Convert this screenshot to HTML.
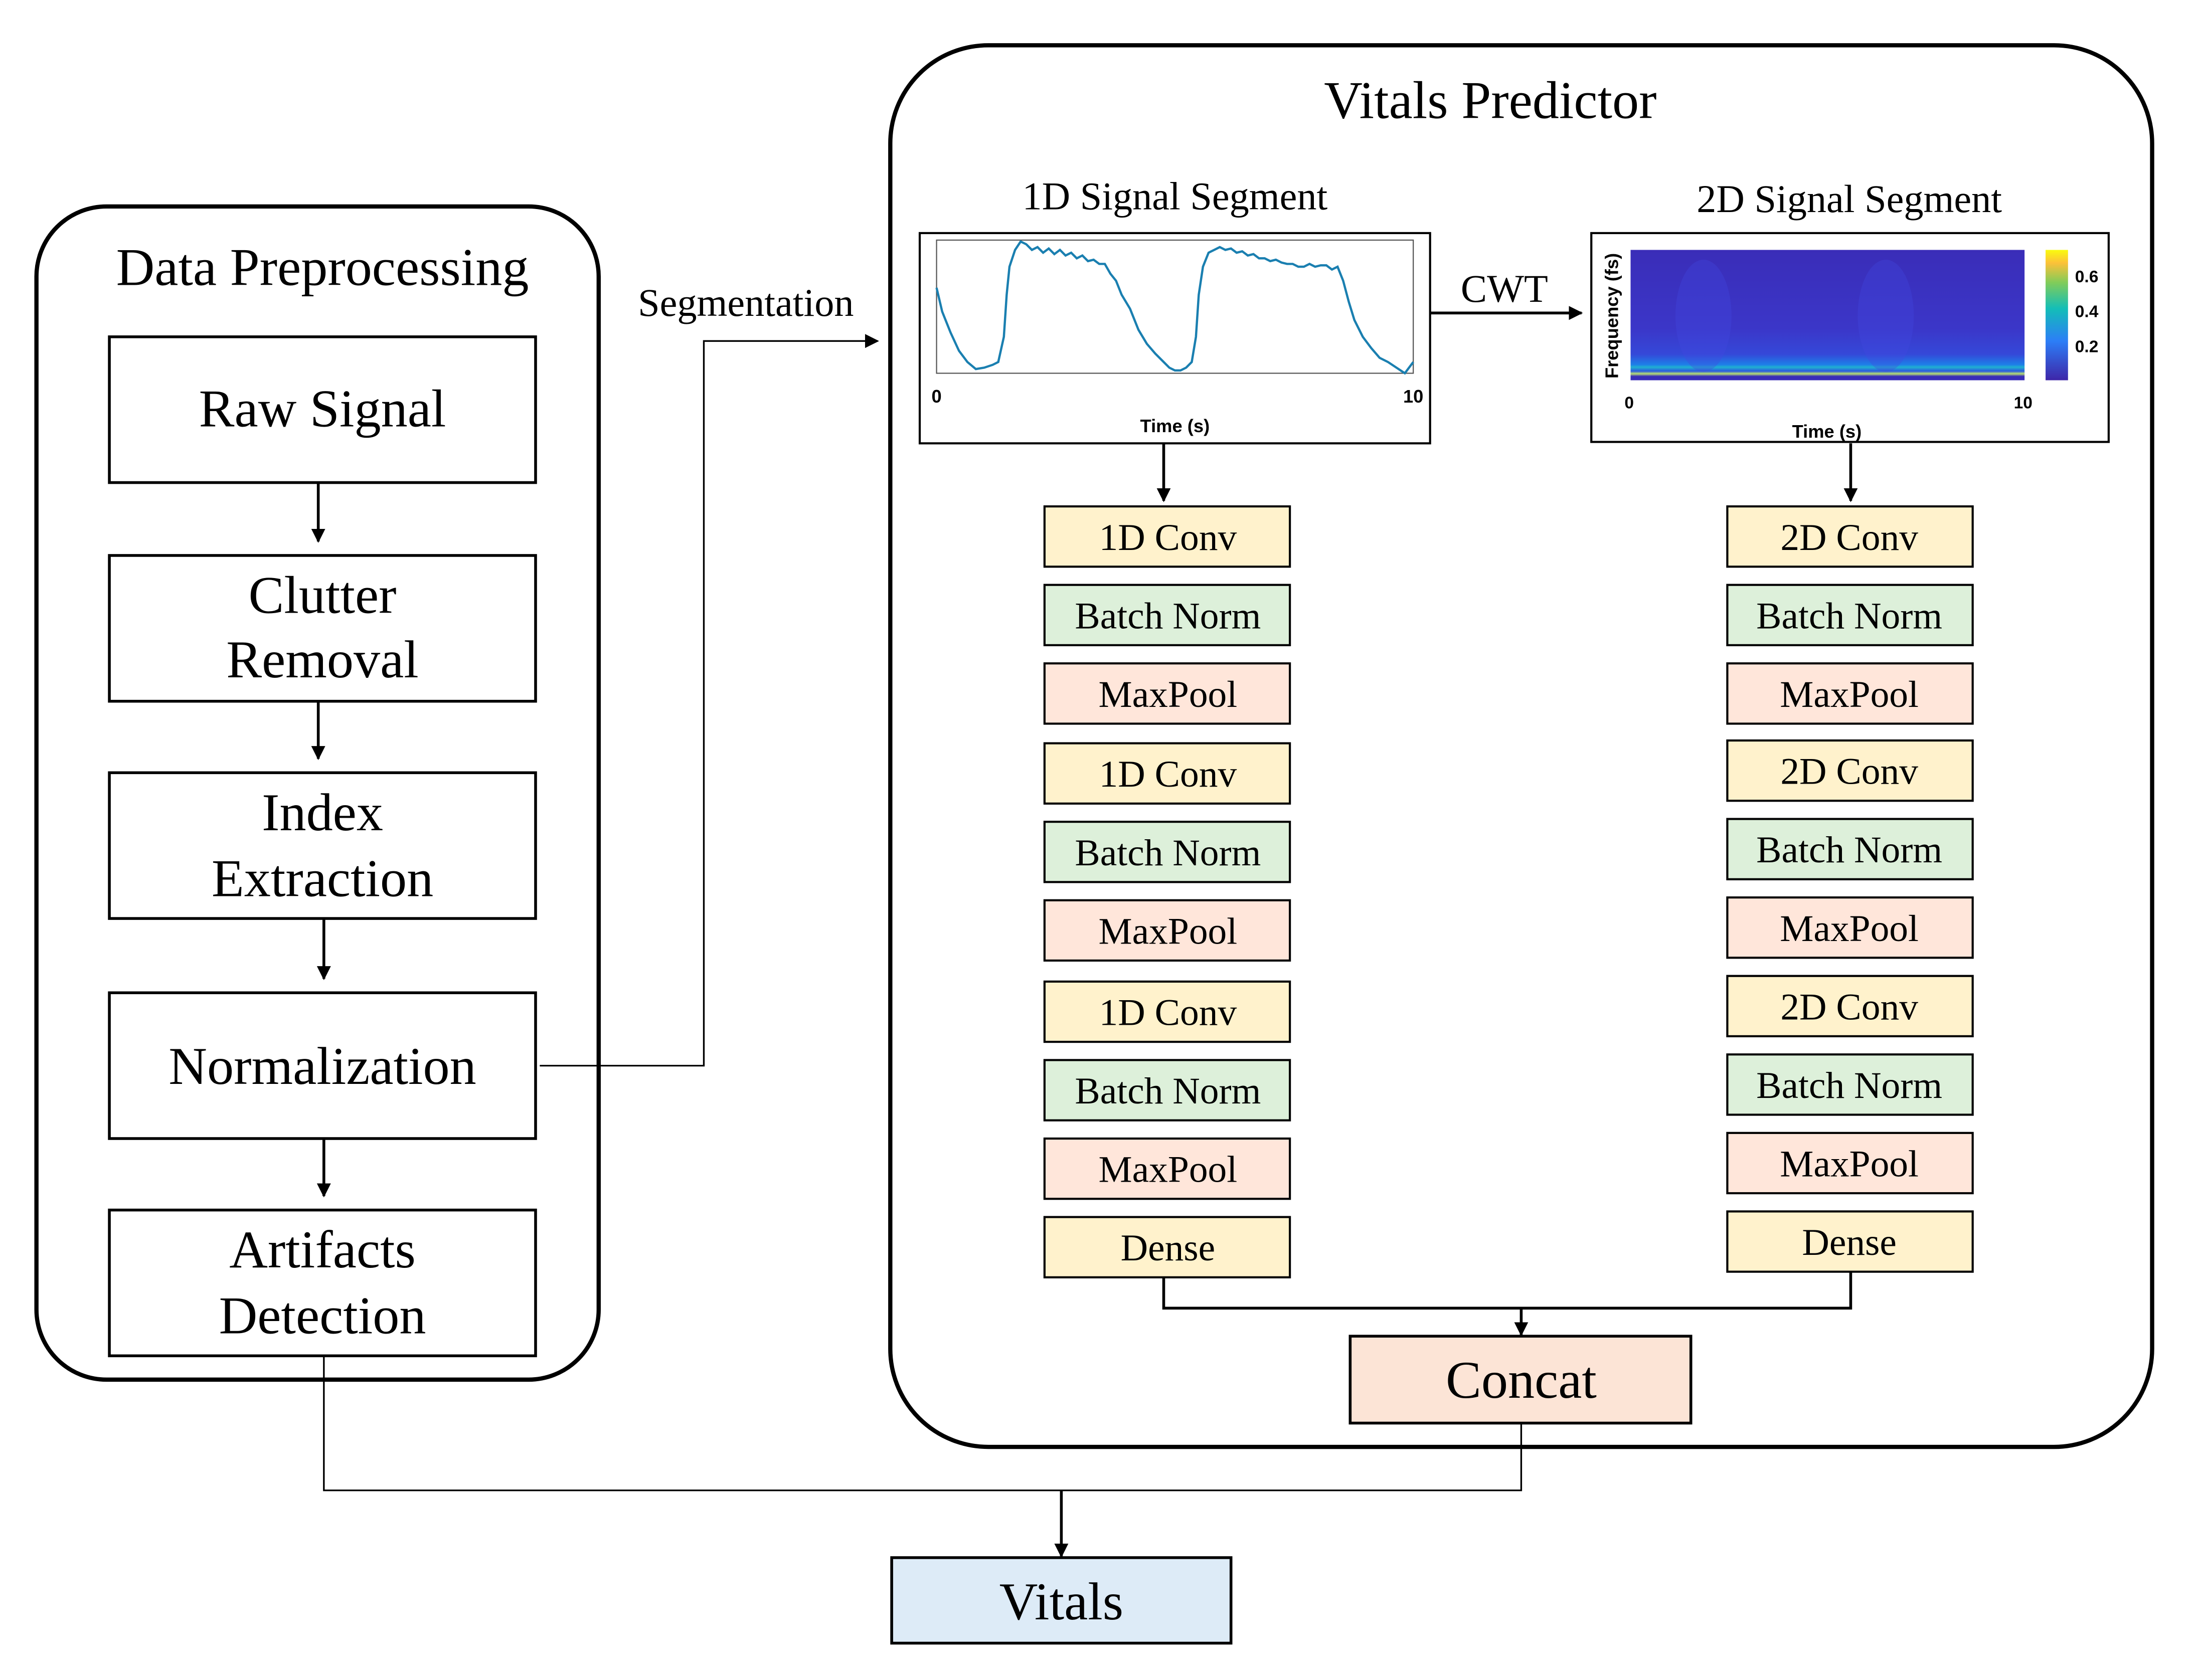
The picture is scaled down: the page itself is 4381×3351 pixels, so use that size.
<!DOCTYPE html>
<html><head><meta charset="utf-8"><style>html,body{margin:0;padding:0;background:#fff}svg{display:block}</style></head>
<body>
<svg width="4381" height="3351" viewBox="0 0 1567 1198" xmlns="http://www.w3.org/2000/svg" font-family="'Liberation Serif', serif">
<defs>
<marker id="ah" markerWidth="10" markerHeight="10" refX="9" refY="5" orient="auto" markerUnits="userSpaceOnUse"><path d="M0,0 L10,5 L0,10 z" fill="#000"/></marker>
<linearGradient id="cb" x1="0" y1="1" x2="0" y2="0"><stop offset="0" stop-color="#3e26a8"/><stop offset="0.3" stop-color="#2c7ef7"/><stop offset="0.55" stop-color="#13beb7"/><stop offset="0.75" stop-color="#81cc59"/><stop offset="0.9" stop-color="#fcc139"/><stop offset="1" stop-color="#f9fb0e"/></linearGradient>
<linearGradient id="hm" x1="0" y1="0" x2="0" y2="1"><stop offset="0" stop-color="#3a2db8"/><stop offset="0.6" stop-color="#3b36c8"/><stop offset="0.8" stop-color="#3548d8"/><stop offset="0.88" stop-color="#1e7fe8"/><stop offset="0.9" stop-color="#20b0d0"/><stop offset="0.93" stop-color="#2a5ae0"/><stop offset="0.95" stop-color="#b8e070"/><stop offset="0.97" stop-color="#3a2db8"/><stop offset="1" stop-color="#3a2db8"/></linearGradient>
</defs>

<rect x="26" y="147" width="401" height="837" rx="50" fill="none" stroke="#000" stroke-width="3"/>
<text x="230" y="203" font-size="38" text-anchor="middle">Data Preprocessing</text>
<g fill="#fff" stroke="#000" stroke-width="2">
<rect x="78" y="240" width="304" height="104"/>
<rect x="78" y="396" width="304" height="104"/>
<rect x="78" y="551" width="304" height="104"/>
<rect x="78" y="708" width="304" height="104"/>
<rect x="78" y="863" width="304" height="104"/>
</g>
<g font-size="38" text-anchor="middle">
<text x="230" y="304">Raw Signal</text>
<text x="230" y="437">Clutter</text><text x="230" y="483">Removal</text>
<text x="230" y="592">Index</text><text x="230" y="639">Extraction</text>
<text x="230" y="773">Normalization</text>
<text x="230" y="904">Artifacts</text><text x="230" y="951">Detection</text>
</g>
<g stroke="#000" stroke-width="2" marker-end="url(#ah)">
<line x1="227" y1="344" x2="227" y2="386"/>
<line x1="227" y1="500" x2="227" y2="541"/>
<line x1="231" y1="655" x2="231" y2="698"/>
<line x1="231" y1="812" x2="231" y2="853"/>
</g>

<text x="532" y="225" font-size="28" text-anchor="middle">Segmentation</text>
<polyline points="385,760 502,760 502,243 626,243" fill="none" stroke="#000" stroke-width="1.2" marker-end="url(#ah)"/>

<rect x="635" y="32" width="900" height="1000" rx="70" fill="none" stroke="#000" stroke-width="3"/>
<text x="1063" y="84" font-size="38" text-anchor="middle">Vitals Predictor</text>
<text x="838" y="149" font-size="28" text-anchor="middle">1D Signal Segment</text>
<text x="1319" y="151" font-size="28" text-anchor="middle">2D Signal Segment</text>

<rect x="656" y="166" width="364" height="150" fill="#fff" stroke="#000" stroke-width="1.5"/>
<rect x="668" y="171" width="340" height="95" fill="none" stroke="#555" stroke-width="0.8"/>
<polyline fill="none" stroke="#1a7fb0" stroke-width="1.6" points="668,205 672,222 678,237 684,250 690,258 696,263 702,262 708,260 712,258 716,240 718,210 720,190 724,178 728,172 732,174 736,178 740,176 744,180 748,177 752,181 756,178 760,182 764,180 768,184 772,182 776,186 780,185 784,188 788,188 792,195 796,200 800,210 806,220 812,235 818,245 824,252 830,258 834,262 838,264 842,264 846,262 850,258 853,240 855,210 858,190 862,180 866,178 870,176 874,178 878,177 882,180 886,179 890,182 894,181 898,184 902,184 906,186 910,185 914,187 918,188 922,188 926,190 930,190 934,188 938,190 942,189 946,189 950,192 954,190 958,200 962,215 966,228 972,240 978,248 984,255 990,258 996,262 1002,266 1008,258"/>
<g font-family="'Liberation Sans', sans-serif" font-size="13" font-weight="bold" text-anchor="middle">
<text x="668" y="287">0</text><text x="1008" y="287">10</text>
<text x="838" y="308">Time (s)</text>
</g>

<text x="1073" y="215" font-size="28" text-anchor="middle">CWT</text>
<line x1="1020" y1="223" x2="1128" y2="223" stroke="#000" stroke-width="2" marker-end="url(#ah)"/>

<rect x="1135" y="166" width="369" height="149" fill="#fff" stroke="#000" stroke-width="1.5"/>
<rect x="1163" y="178" width="281" height="93" fill="url(#hm)"/>
<ellipse cx="1215" cy="225" rx="20" ry="40" fill="#4248e0" opacity="0.35"/>
<ellipse cx="1345" cy="225" rx="20" ry="40" fill="#4248e0" opacity="0.35"/>
<rect x="1459" y="178" width="16" height="93" fill="url(#cb)"/>
<g font-family="'Liberation Sans', sans-serif" font-size="12" font-weight="bold">
<text x="1480" y="201">0.6</text><text x="1480" y="226">0.4</text><text x="1480" y="251">0.2</text>
<text x="1162" y="291" text-anchor="middle">0</text><text x="1443" y="291" text-anchor="middle">10</text>
<text x="1303" y="312" text-anchor="middle" font-size="13">Time (s)</text>
<text transform="translate(1154,225) rotate(-90)" text-anchor="middle" font-size="13">Frequency (fs)</text>
</g>

<g stroke="#000" stroke-width="2" marker-end="url(#ah)">
<line x1="830" y1="316" x2="830" y2="357"/>
<line x1="1320" y1="316" x2="1320" y2="357"/>
</g>

<g stroke="#000" stroke-width="1.5">
<rect x="745" y="361" width="175" height="43" fill="#fff2cc"/>
<rect x="745" y="417" width="175" height="43" fill="#ddf0da"/>
<rect x="745" y="473" width="175" height="43" fill="#ffe6da"/>
<rect x="745" y="530" width="175" height="43" fill="#fff2cc"/>
<rect x="745" y="586" width="175" height="43" fill="#ddf0da"/>
<rect x="745" y="642" width="175" height="43" fill="#ffe6da"/>
<rect x="745" y="700" width="175" height="43" fill="#fff2cc"/>
<rect x="745" y="756" width="175" height="43" fill="#ddf0da"/>
<rect x="745" y="812" width="175" height="43" fill="#ffe6da"/>
<rect x="745" y="868" width="175" height="43" fill="#fff2cc"/>
<rect x="1232" y="361" width="175" height="43" fill="#fff2cc"/>
<rect x="1232" y="417" width="175" height="43" fill="#ddf0da"/>
<rect x="1232" y="473" width="175" height="43" fill="#ffe6da"/>
<rect x="1232" y="528" width="175" height="43" fill="#fff2cc"/>
<rect x="1232" y="584" width="175" height="43" fill="#ddf0da"/>
<rect x="1232" y="640" width="175" height="43" fill="#ffe6da"/>
<rect x="1232" y="696" width="175" height="43" fill="#fff2cc"/>
<rect x="1232" y="752" width="175" height="43" fill="#ddf0da"/>
<rect x="1232" y="808" width="175" height="43" fill="#ffe6da"/>
<rect x="1232" y="864" width="175" height="43" fill="#fff2cc"/>
</g>
<g font-size="27" text-anchor="middle">
<text x="833" y="392">1D Conv</text><text x="833" y="448">Batch Norm</text><text x="833" y="504">MaxPool</text>
<text x="833" y="561">1D Conv</text><text x="833" y="617">Batch Norm</text><text x="833" y="673">MaxPool</text>
<text x="833" y="731">1D Conv</text><text x="833" y="787">Batch Norm</text><text x="833" y="843">MaxPool</text>
<text x="833" y="899">Dense</text>
<text x="1319" y="392">2D Conv</text><text x="1319" y="448">Batch Norm</text><text x="1319" y="504">MaxPool</text>
<text x="1319" y="559">2D Conv</text><text x="1319" y="615">Batch Norm</text><text x="1319" y="671">MaxPool</text>
<text x="1319" y="727">2D Conv</text><text x="1319" y="783">Batch Norm</text><text x="1319" y="839">MaxPool</text>
<text x="1319" y="895">Dense</text>
</g>

<polyline points="830,911 830,933 1320,933 1320,907" fill="none" stroke="#000" stroke-width="2"/>
<line x1="1085" y1="933" x2="1085" y2="952" stroke="#000" stroke-width="2" marker-end="url(#ah)"/>
<rect x="963" y="953" width="243" height="62" fill="#fce4d6" stroke="#000" stroke-width="2"/>
<text x="1085" y="997" font-size="38" text-anchor="middle">Concat</text>

<polyline points="1085,1015 1085,1063 231,1063 231,967" fill="none" stroke="#000" stroke-width="1.2"/>
<line x1="757" y1="1063" x2="757" y2="1110" stroke="#000" stroke-width="2" marker-end="url(#ah)"/>
<rect x="636" y="1111" width="242" height="61" fill="#ddebf7" stroke="#000" stroke-width="2"/>
<text x="757" y="1155" font-size="38" text-anchor="middle">Vitals</text>
</svg>
</body></html>
